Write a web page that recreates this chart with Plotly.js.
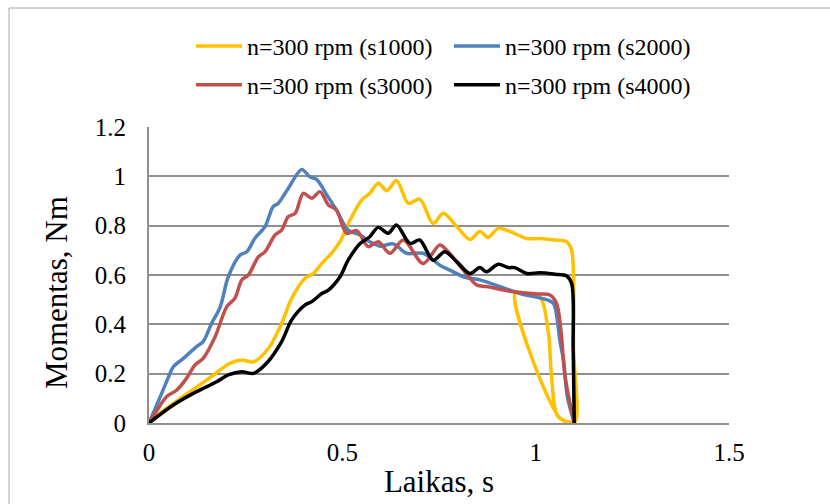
<!DOCTYPE html>
<html>
<head>
<meta charset="utf-8">
<script src="https://cdn.plot.ly/plotly-3.0.1.min.js"></script>
<style>html,body{margin:0;padding:0;background:#fff}#chart{width:830px;height:504px}</style>
</head>
<body>
<div id="chart"></div>
<script>
const seriesNames = ["n=300 rpm (s1000)", "n=300 rpm (s2000)", "n=300 rpm (s3000)", "n=300 rpm (s4000)"];

const s1000_x = [0, 0.028, 0.063, 0.106, 0.149, 0.184, 0.209, 0.24, 0.27, 0.309, 0.343, 0.369, 0.403, 0.425, 0.447, 0.472, 0.494, 0.52, 0.55, 0.571, 0.593, 0.615, 0.64, 0.671, 0.70, 0.735, 0.761, 0.796, 0.83, 0.856, 0.877, 0.903, 0.934, 0.977, 1.011, 1.05, 1.08, 1.093, 1.098, 1.10, 1.063, 0.947, 0.98, 1.011, 1.033, 1.041, 1.058, 1.10];
const s1000_y = [0, 0.039, 0.079, 0.127, 0.174, 0.215, 0.242, 0.255, 0.248, 0.303, 0.404, 0.505, 0.586, 0.606, 0.647, 0.688, 0.735, 0.823, 0.904, 0.931, 0.972, 0.942, 0.983, 0.89, 0.908, 0.809, 0.85, 0.796, 0.744, 0.776, 0.752, 0.789, 0.776, 0.748, 0.748, 0.742, 0.735, 0.70, 0.3, 0, 0.02, 0.525, 0.52, 0.513, 0.365, 0.19, 0.026, 0];

const s2000_x = [0, 0.03, 0.054, 0.063, 0.089, 0.123, 0.14, 0.162, 0.184, 0.205, 0.235, 0.253, 0.274, 0.30, 0.321, 0.334, 0.36, 0.395, 0.416, 0.434, 0.46, 0.485, 0.515, 0.546, 0.571, 0.597, 0.632, 0.666, 0.709, 0.752, 0.778, 0.813, 0.856, 0.908, 0.959, 1.028, 1.046, 1.063, 1.072, 1.082, 1.10];
const s2000_y = [0, 0.11, 0.20, 0.228, 0.262, 0.31, 0.33, 0.404, 0.47, 0.593, 0.68, 0.694, 0.749, 0.796, 0.877, 0.89, 0.951, 1.028, 0.998, 0.987, 0.924, 0.863, 0.782, 0.762, 0.735, 0.717, 0.726, 0.688, 0.688, 0.64, 0.62, 0.593, 0.58, 0.553, 0.525, 0.50, 0.485, 0.33, 0.255, 0.107, 0];

const s3000_x = [0, 0.02, 0.046, 0.072, 0.097, 0.119, 0.14, 0.171, 0.201, 0.222, 0.24, 0.257, 0.283, 0.30, 0.326, 0.343, 0.36, 0.378, 0.399, 0.421, 0.442, 0.464, 0.485, 0.511, 0.537, 0.567, 0.593, 0.623, 0.658, 0.709, 0.752, 0.77, 0.813, 0.847, 0.873, 0.942, 1.011, 1.037, 1.054, 1.065, 1.076, 1.10];
const s3000_y = [0, 0.05, 0.107, 0.134, 0.181, 0.235, 0.262, 0.35, 0.471, 0.505, 0.58, 0.60, 0.674, 0.694, 0.762, 0.782, 0.836, 0.85, 0.931, 0.911, 0.938, 0.884, 0.863, 0.769, 0.78, 0.715, 0.735, 0.688, 0.742, 0.647, 0.722, 0.70, 0.62, 0.56, 0.553, 0.532, 0.523, 0.519, 0.485, 0.38, 0.188, 0];

const s4000_x = [0, 0.063, 0.123, 0.175, 0.205, 0.24, 0.27, 0.304, 0.343, 0.369, 0.403, 0.421, 0.447, 0.464, 0.494, 0.515, 0.546, 0.571, 0.593, 0.619, 0.64, 0.675, 0.70, 0.735, 0.765, 0.796, 0.83, 0.856, 0.873, 0.903, 0.929, 0.946, 0.977, 1.011, 1.05, 1.08, 1.093, 1.097, 1.10];
const s4000_y = [0, 0.073, 0.127, 0.167, 0.195, 0.208, 0.201, 0.242, 0.33, 0.418, 0.478, 0.492, 0.525, 0.539, 0.593, 0.66, 0.728, 0.755, 0.793, 0.769, 0.803, 0.728, 0.742, 0.66, 0.694, 0.654, 0.606, 0.63, 0.613, 0.644, 0.63, 0.63, 0.606, 0.609, 0.603, 0.596, 0.566, 0.3, 0];

const xTitle = "Laikas, s";
const yTitle = "Momentas, Nm";

const colors = ["#FFC000", "#4F81BD", "#C0504D", "#000000"];
const xs = [s1000_x, s2000_x, s3000_x, s4000_x];
const ys = [s1000_y, s2000_y, s3000_y, s4000_y];
const legendIds = ["legend", "legend", "legend2", "legend2"];

const FONT = "Liberation Serif, Times New Roman, serif";

const traces = xs.map((x, i) => ({
  type: "scatter", mode: "lines", name: seriesNames[i],
  x: x, y: ys[i],
  line: {color: colors[i], width: 3.5, shape: "spline", smoothing: 0.9},
  legend: legendIds[i]
}));

const legendCommon = {
  orientation: "h", xanchor: "left", yanchor: "middle",
  font: {family: FONT, size: 24, color: "#000"},
  bgcolor: "rgba(0,0,0,0)", borderwidth: 0,
  entrywidth: 197, entrywidthmode: "pixels", itemwidth: 46,
  traceorder: "normal"
};

const layout = {
  width: 830, height: 504,
  margin: {l: 149, r: 101, t: 127, b: 81},
  paper_bgcolor: "#fff", plot_bgcolor: "#fff",
  showlegend: true,
  font: {family: FONT, color: "#000"},
  xaxis: {
    range: [0, 1.5], dtick: 0.5, tick0: 0,
    showgrid: false, zeroline: false,
    showline: true, linecolor: "#8f8f8f", linewidth: 2,
    ticks: "outside", ticklen: 6, tickcolor: "rgba(0,0,0,0)",
    tickfont: {family: FONT, size: 25, color: "#000"},
    title: {text: xTitle, font: {family: FONT, size: 31, color: "#000"}, standoff: 5},
    fixedrange: true
  },
  yaxis: {
    range: [0, 1.2], dtick: 0.2, tick0: 0,
    showgrid: true, gridcolor: "#8f8f8f", gridwidth: 2,
    zeroline: false,
    showline: true, linecolor: "#8f8f8f", linewidth: 2,
    ticks: "outside", ticklen: 16, tickcolor: "rgba(0,0,0,0)",
    tickfont: {family: FONT, size: 25, color: "#000"},
    fixedrange: true
  },
  legend: Object.assign({}, legendCommon, {x: 0.0724, y: 1.272}),
  legend2: Object.assign({}, legendCommon, {x: 0.0724, y: 1.141}),
  annotations: [{
    text: yTitle, xref: "paper", yref: "paper",
    x: -0.1603, y: 0.439, xanchor: "center", yanchor: "middle",
    textangle: -90, showarrow: false,
    font: {family: FONT, size: 31, color: "#000"}
  }],
  shapes: [{
    type: "rect", xref: "paper", yref: "paper",
    x0: -0.2414, x1: 1.6, y0: -0.6, y1: 1.402,
    line: {color: "#a6a6a6", width: 1}, fillcolor: "rgba(0,0,0,0)", layer: "below"
  }]
};

Plotly.newPlot("chart", traces, layout, {staticPlot: true, displayModeBar: false});
</script>
</body>
</html>
